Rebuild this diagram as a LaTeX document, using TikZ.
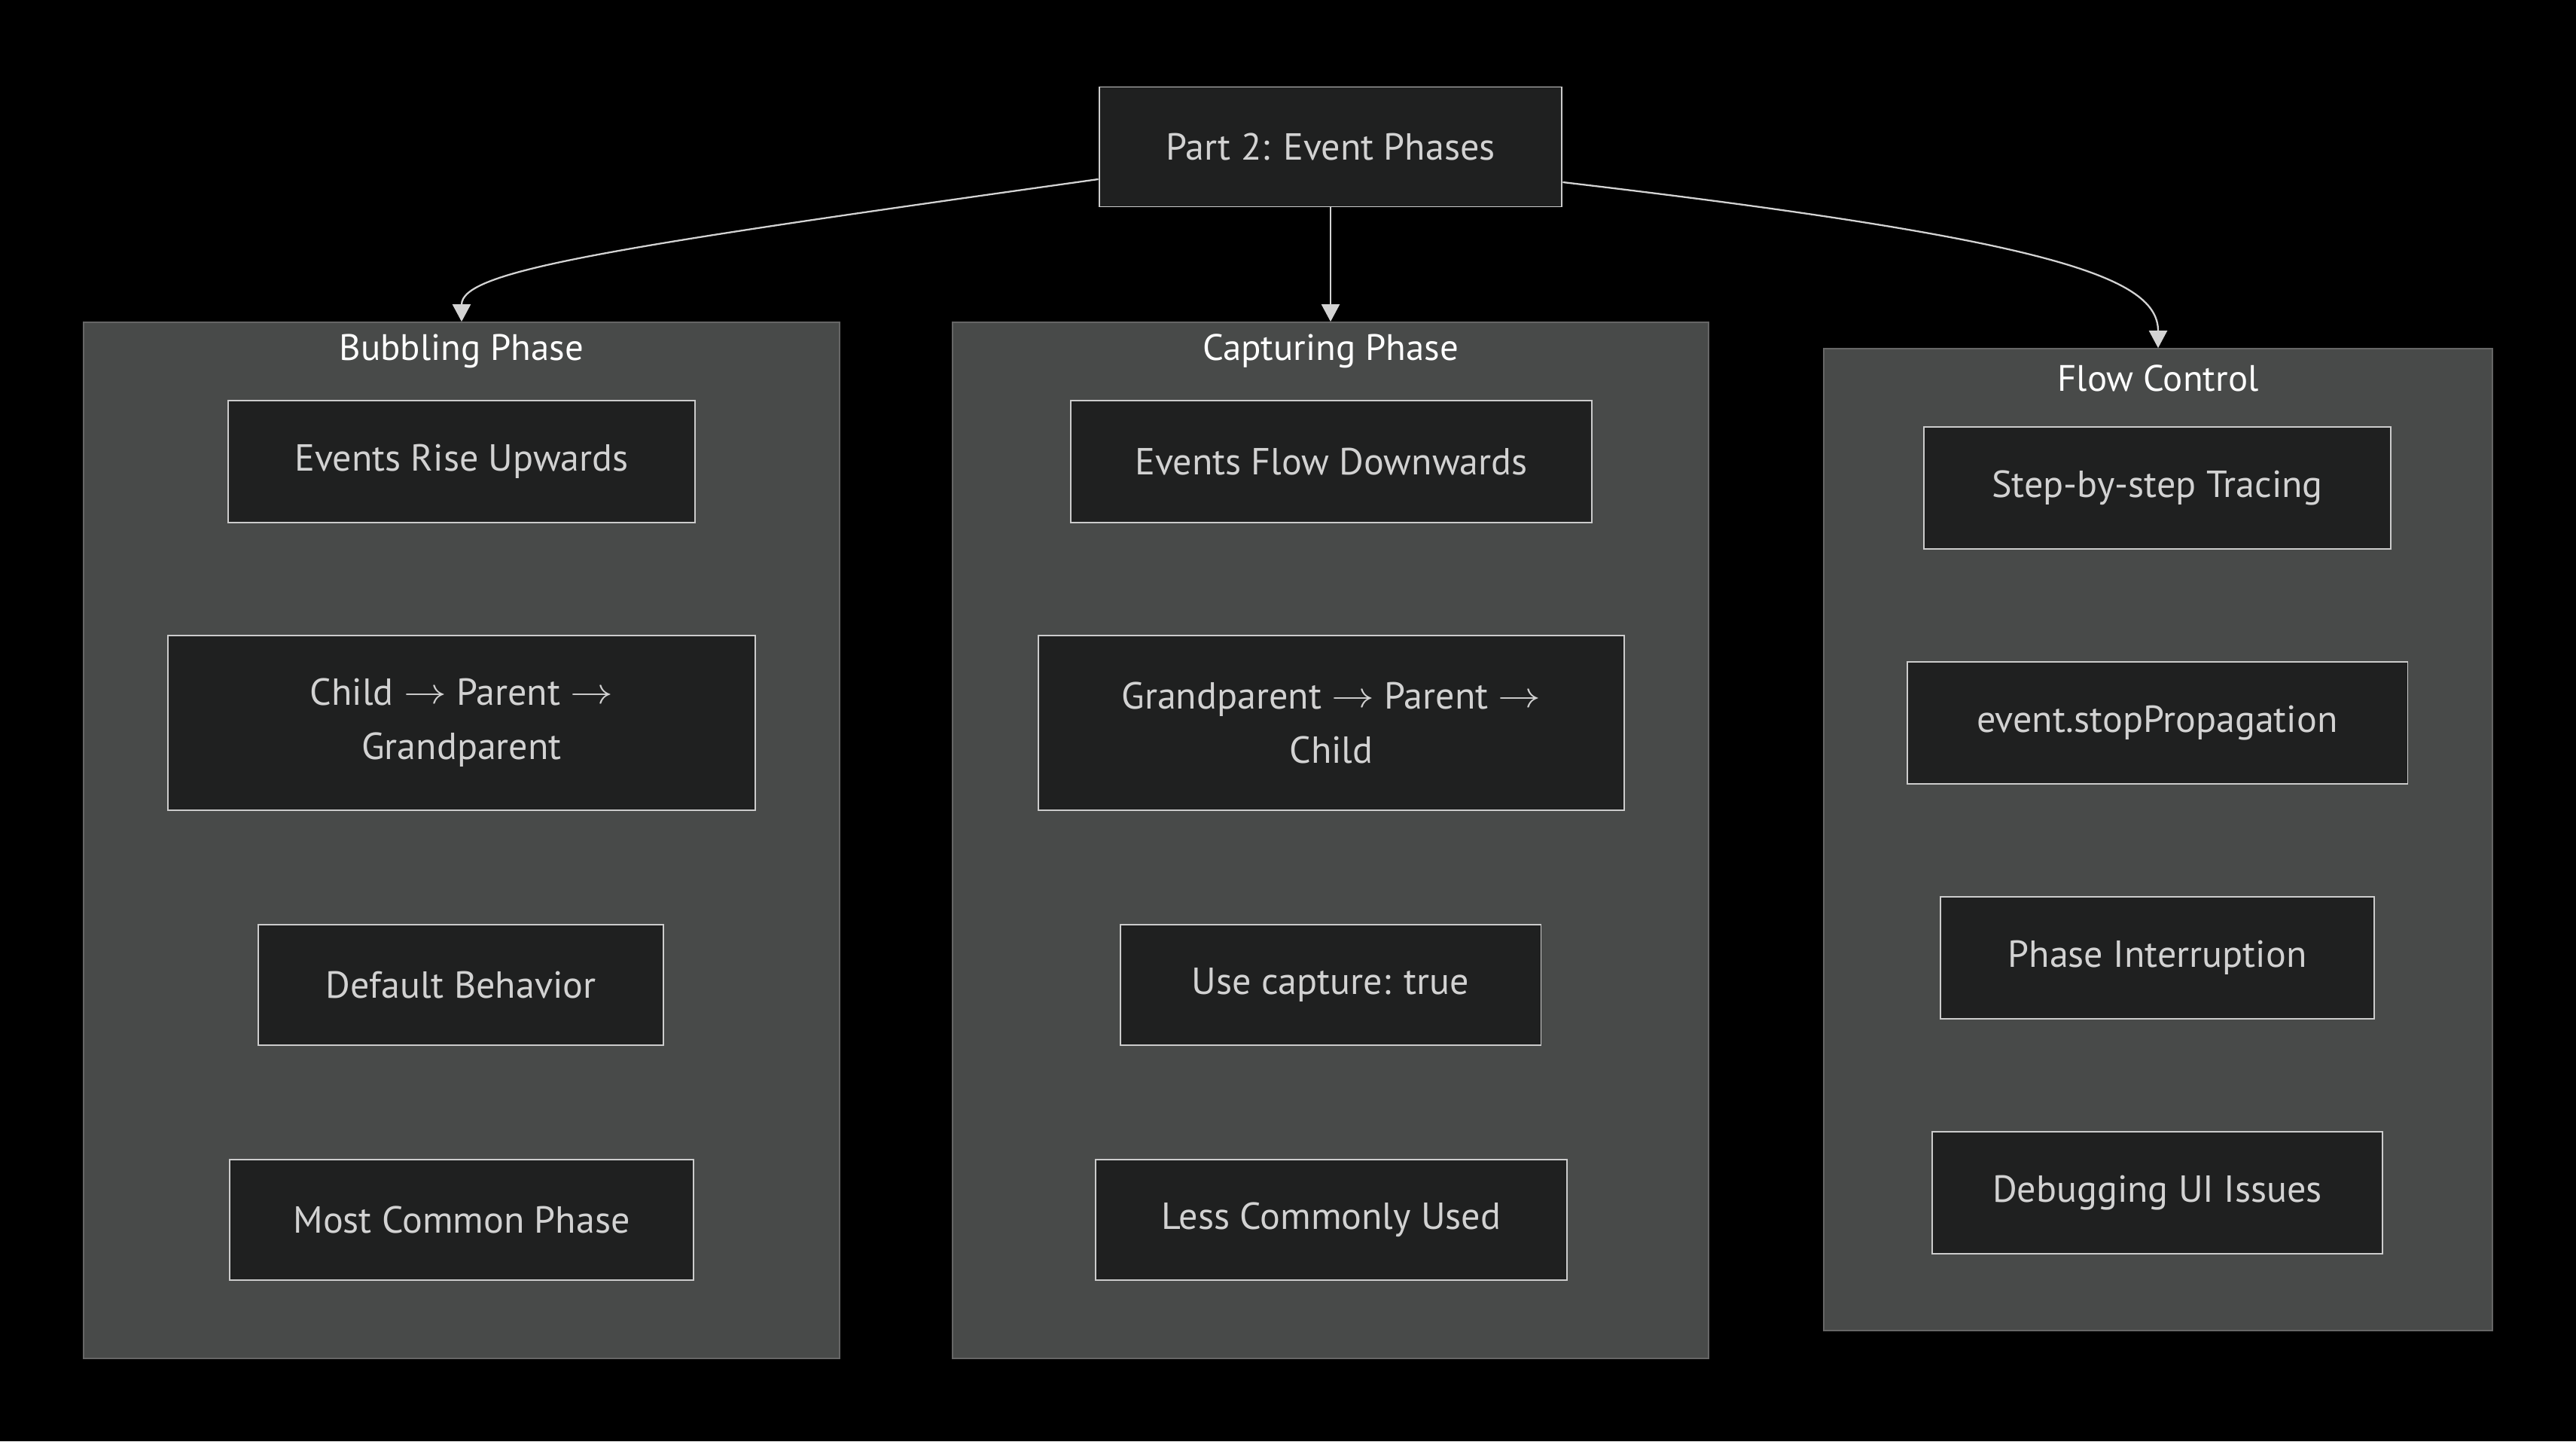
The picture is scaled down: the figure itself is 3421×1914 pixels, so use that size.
\documentclass[tikz,border=0pt]{standalone}
\usepackage{fontspec}
\usepackage{graphicx}
\setmainfont{PT Sans}
\usetikzlibrary{arrows.meta}
\definecolor{bgc}{RGB}{0,0,0}
\definecolor{clfill}{RGB}{72,74,73}
\definecolor{clline}{RGB}{102,102,102}
\definecolor{ndfill}{RGB}{31,32,32}
\definecolor{ndline}{RGB}{204,204,204}
\definecolor{ndtext}{RGB}{210,210,210}
\definecolor{edgec}{RGB}{211,211,211}
\newcommand{\ar}{\raisebox{0.05em}{\scalebox{1.3}[1.1]{$\rightarrow$}}}
\tikzset{
  nbox/.style={draw=ndline, fill=ndfill, line width=1.1pt, text=ndtext,
    font=\fontsize{28.5}{41}\selectfont, align=center, inner sep=0pt},
  cbox/.style={draw=clline, fill=clfill, line width=1.1pt, inner sep=0pt},
  ctitle/.style={text=white, font=\fontsize{27.8}{32}\selectfont, inner sep=0pt},
  conn/.style={draw=edgec, line width=1.3pt, -{Triangle[width=0.48cm,length=0.46cm]}}
}
\begin{document}
\begin{tikzpicture}[x=0.02cm, y=-0.02cm]
\useasboundingbox[fill=bgc] (0,0) rectangle (3421,1914);
% clusters
\node[cbox, minimum width=20.08cm, minimum height=27.52cm] (bub) at (613,1116) {};
\node[cbox, minimum width=20.08cm, minimum height=27.52cm] (cap) at (1767,1116) {};
\node[cbox, minimum width=17.76cm, minimum height=26.08cm] (flow) at (2866,1115) {};
\node[ctitle] (tbub) at (613,466) {Bubbling Phase};
\node[ctitle] (tcap) at (1767,466) {Capturing Phase};
\node[ctitle] (tflow) at (2866,502) {Flow Control};
% top node
\node[nbox, minimum width=12.3cm, minimum height=3.18cm] (top) at (1767,195) {Part 2: Event Phases};
% bubbling
\node[nbox, minimum width=12.4cm, minimum height=3.24cm] (b1) at (613,613) {Events Rise Upwards};
\node[nbox, minimum width=15.62cm, minimum height=4.64cm] (b2) at (613,960) {Child \ar{} Parent \ar\\Grandparent};
\node[nbox, minimum width=10.76cm, minimum height=3.2cm] (b3) at (612,1308) {Default Behavior};
\node[nbox, minimum width=12.32cm, minimum height=3.2cm] (b4) at (613,1620) {Most Common Phase};
% capturing
\node[nbox, minimum width=13.84cm, minimum height=3.24cm] (c1) at (1768,613) {Events Flow Downwards};
\node[nbox, minimum width=15.58cm, minimum height=4.64cm] (c2) at (1768,960) {Grandparent \ar{} Parent \ar\\Child};
\node[nbox, minimum width=11.18cm, minimum height=3.2cm] (c3) at (1767,1308) {Use capture: true};
\node[nbox, minimum width=12.52cm, minimum height=3.2cm] (c4) at (1768,1620) {Less Commonly Used};
% flow control
\node[nbox, minimum width=12.4cm, minimum height=3.24cm] (f1) at (2865,648) {Step-by-step Tracing};
\node[nbox, minimum width=13.3cm, minimum height=3.24cm] (f2) at (2865,960) {event.stopPropagation};
\node[nbox, minimum width=11.52cm, minimum height=3.24cm] (f3) at (2865,1272) {Phase Interruption};
\node[nbox, minimum width=11.96cm, minimum height=3.24cm] (f4) at (2865,1584) {Debugging UI Issues};
% connectors
\draw[conn] ([yshift=-0.86cm]top.west) .. controls (800,330) and (613,360) .. (bub.north);
\draw[conn] (top.south) -- (cap.north);
\draw[conn] ([yshift=-0.94cm]top.east) .. controls (2735,319) and (2866,370) .. (flow.north);
\end{tikzpicture}
\end{document}
